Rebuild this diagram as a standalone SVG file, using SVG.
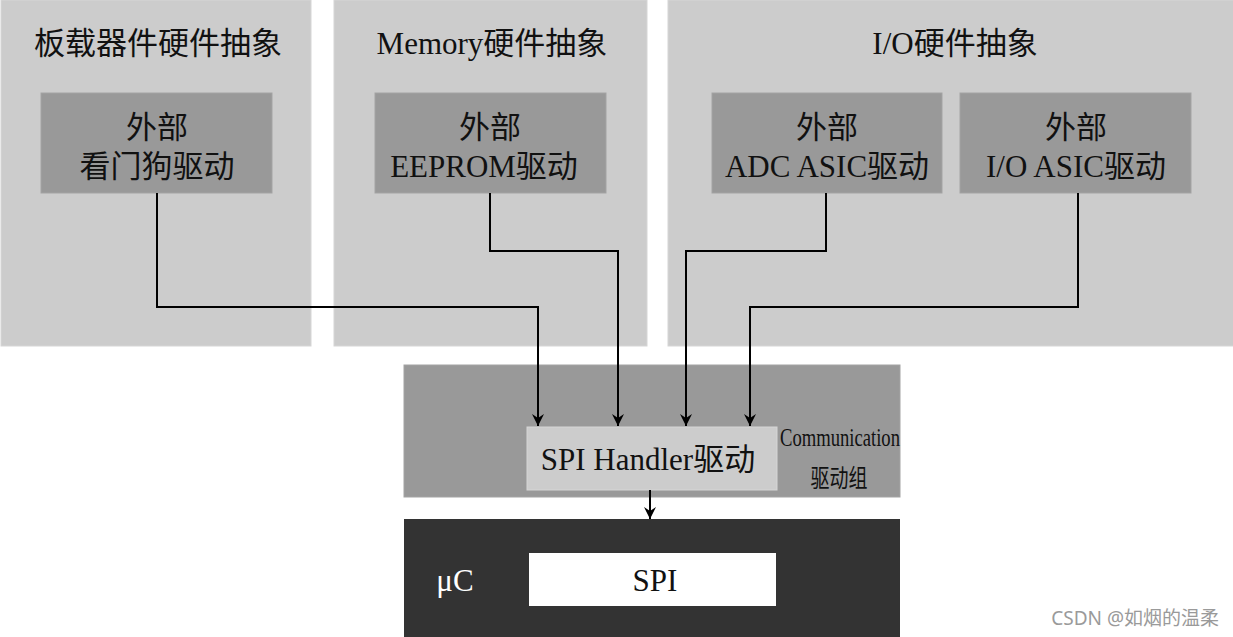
<svg xmlns="http://www.w3.org/2000/svg" width="1233" height="637" viewBox="0 0 1233 637">
<style>
  .panel{fill:#cccccc;stroke:#d6d6d6;stroke-width:1}
  .box{fill:#999999;stroke:#a3a3a3;stroke-width:1}
  .t{font-family:"Liberation Serif","Noto Sans CJK SC",serif;font-size:31px;fill:#111;text-anchor:middle}
  .s{font-family:"Liberation Serif","Noto Sans CJK SC",serif;font-size:25px;fill:#111;text-anchor:middle}
  .w{fill:#ffffff}
  .conn{fill:none;stroke:#000;stroke-width:2}
</style>
<defs>
  <marker id="arr" viewBox="0 0 12 14" refX="12" refY="7" markerWidth="12" markerHeight="14" markerUnits="userSpaceOnUse" orient="auto">
    <path d="M0,1 L12,7 L0,13 L4,7 Z" fill="#000"/>
  </marker>
</defs>
<rect width="1233" height="637" fill="#ffffff"/>
<g id="panel-board">
  <rect class="panel" x="1" y="0" width="310" height="346"/>
  <text class="t" x="158" y="54">板载器件硬件抽象</text>
</g>
<g id="panel-memory">
  <rect class="panel" x="334" y="0" width="313" height="346"/>
  <text class="t" x="492" y="54">Memory硬件抽象</text>
</g>
<g id="panel-io">
  <rect class="panel" x="668" y="0" width="566" height="346"/>
  <text class="t" x="955" y="54">I/O硬件抽象</text>
</g>
<g id="node-watchdog">
  <rect class="box" x="41" y="93" width="231" height="100"/>
  <text class="t" x="157" y="138">外部</text>
  <text class="t" x="157" y="177">看门狗驱动</text>
</g>
<g id="node-eeprom">
  <rect class="box" x="375" y="93" width="231" height="100"/>
  <text class="t" x="490" y="138">外部</text>
  <text class="t" x="484" y="177">EEPROM驱动</text>
</g>
<g id="node-adc">
  <rect class="box" x="712" y="93" width="230" height="100"/>
  <text class="t" x="827" y="138">外部</text>
  <text class="t" x="827" y="177">ADC ASIC驱动</text>
</g>
<g id="node-ioasic">
  <rect class="box" x="960" y="93" width="231" height="100"/>
  <text class="t" x="1076" y="138">外部</text>
  <text class="t" x="1076" y="177">I/O ASIC驱动</text>
</g>
<g id="group-comm">
  <rect class="box" x="404" y="365" width="496" height="132"/>
  <text class="s" x="840" y="446" textLength="120" lengthAdjust="spacingAndGlyphs">Communication</text>
  <text class="s" x="839" y="487" textLength="57" lengthAdjust="spacingAndGlyphs">驱动组</text>
</g>
<g id="node-spihandler">
  <rect x="527" y="427" width="250" height="63" fill="#cccccc" stroke="#d6d6d6"/>
  <text class="t" x="648" y="470">SPI Handler驱动</text>
</g>
<g id="group-uc">
  <rect x="404" y="519" width="496" height="118" fill="#333333"/>
  <text class="t w" x="455" y="591">μC</text>
</g>
<g id="node-spi">
  <rect x="529" y="553" width="247" height="53" fill="#ffffff"/>
  <text class="t" x="655" y="591">SPI</text>
</g>
<g id="connectors">
  <path class="conn" d="M157,193 V307 H538 V426" marker-end="url(#arr)"/>
  <path class="conn" d="M490,193 V251 H618 V426" marker-end="url(#arr)"/>
  <path class="conn" d="M826,193 V251 H686 V426" marker-end="url(#arr)"/>
  <path class="conn" d="M1078,193 V307 H750 V426" marker-end="url(#arr)"/>
  <path class="conn" d="M650,490 V519" marker-end="url(#arr)"/>
</g>
<text x="1219" y="625" text-anchor="end" font-family="'Noto Sans','Noto Sans CJK SC',sans-serif" font-size="19" fill="#9a9a9a">CSDN @如烟的温柔</text>
</svg>
